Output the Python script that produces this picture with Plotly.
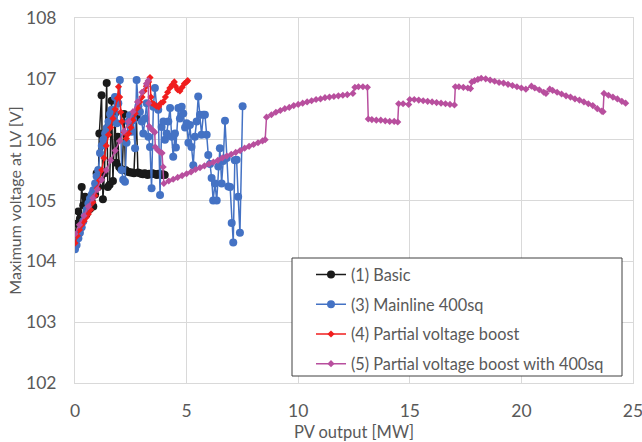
import plotly.graph_objects as go

# ---------------- data ----------------
# (1) Basic
x1 = [0.0, 0.08, 0.15, 0.22, 0.3, 0.37, 0.45, 0.52, 0.6, 0.67, 0.75, 0.82, 0.9, 0.97,
      1.04, 1.09, 1.19, 1.25, 1.32, 1.42, 1.47, 1.55, 1.64, 1.7, 1.79, 1.85, 1.92, 1.98,
      2.05, 2.12, 2.2, 2.26, 2.33, 2.4, 2.48, 2.56, 2.64, 2.75, 2.82, 2.9, 2.97, 3.04,
      3.11, 3.18, 3.25, 3.32, 3.39, 3.46, 3.53, 3.6, 3.67, 3.74, 3.81, 3.88, 3.95, 4.02]
v1 = [104.43, 104.62, 104.82, 104.7, 105.22, 104.92, 105.06, 104.78, 105.04, 104.86, 104.98,
      104.9, 105.1, 105.45, 105.22, 106.1, 106.73, 105.02, 105.45, 106.93, 105.22, 105.26,
      106.64, 105.32, 106.43, 105.62, 106.05, 105.55, 105.52, 105.5, 106.42, 105.5, 105.48,
      105.47, 105.46, 105.46, 105.45, 106.37, 105.46, 105.45, 105.44, 105.43, 105.45, 105.44,
      105.42, 105.44, 105.43, 105.45, 105.44, 105.43, 105.42, 105.44, 105.43, 105.42, 105.43,
      105.42]

# (3) Mainline 400sq
x3 = [0.0, 0.07, 0.15, 0.22, 0.3, 0.37, 0.45, 0.52, 0.6, 0.67, 0.75, 0.82, 0.9, 0.97, 1.04,
      1.12, 1.2, 1.27, 1.35, 1.42, 1.5, 1.57, 1.64, 1.72, 1.79, 1.87, 1.94, 2.01, 2.09, 2.16,
      2.24, 2.31, 2.39, 2.46, 2.54, 2.61, 2.69, 2.76, 2.84, 2.91, 2.99, 3.06, 3.14, 3.21, 3.29,
      3.36, 3.43, 3.51, 3.58, 3.66, 3.73, 3.81, 3.88, 3.96, 4.03, 4.11, 4.18, 4.26, 4.33, 4.4,
      4.48, 4.52, 4.63, 4.7, 4.78, 4.85, 4.93, 5.0, 5.08, 5.15, 5.22, 5.3, 5.37, 5.45, 5.52,
      5.6, 5.67, 5.75, 5.82, 5.9, 5.97, 6.05, 6.12, 6.19, 6.27, 6.35, 6.42, 6.49, 6.57, 6.64,
      6.72, 6.8, 6.87, 6.95, 7.02, 7.09, 7.16, 7.24, 7.31, 7.39, 7.51]
v3 = [104.2, 104.27, 104.38, 104.47, 104.56, 104.66, 104.75, 104.85, 104.95, 105.03, 105.1,
      105.17, 105.28, 105.4, 105.5, 105.78, 105.9, 106.0, 106.1, 106.19, 106.3, 106.42, 106.49,
      106.35, 106.7, 106.27, 106.6, 106.98, 105.5, 105.34, 105.31, 105.95, 106.3, 106.4, 106.13,
      106.32, 105.86, 106.98, 106.55, 106.46, 106.3, 106.1, 106.35, 106.6, 106.05, 105.88, 105.2,
      106.54, 106.85, 106.54, 106.49, 105.09, 106.21, 106.3, 106.0, 106.1, 106.3, 106.52, 106.05,
      105.72, 106.1, 105.87, 106.52, 106.35, 106.54, 106.43, 106.2, 106.27, 105.95, 106.24,
      105.88, 105.58, 106.05, 106.3, 106.71, 106.41, 106.08, 106.41, 106.41, 106.08, 105.75,
      105.6, 105.37, 105.0, 105.28, 105.0, 105.56, 105.86, 105.28, 105.65, 106.31, 105.7,
      105.23, 105.22, 104.63, 104.31, 105.66, 105.67, 105.06, 104.47, 106.55]

# (4) Partial voltage boost
x4 = [0.0, 0.1, 0.2, 0.3, 0.4, 0.5, 0.6, 0.7, 0.8, 0.9, 1.0, 1.1, 1.2, 1.3, 1.4, 1.5, 1.6,
      1.7, 1.8, 1.9, 1.95, 2.0, 2.05, 2.1, 2.2, 2.3, 2.4, 2.5, 2.6, 2.7, 2.8, 2.9, 3.0, 3.1,
      3.2, 3.3, 3.36, 3.4, 3.45, 3.55, 3.65, 3.75, 3.85, 3.95, 4.05, 4.15, 4.25, 4.35, 4.45,
      4.5, 4.6, 4.7, 4.8, 4.9, 5.0, 5.05]
v4 = [104.3, 104.42, 104.52, 104.6, 104.66, 104.72, 104.78, 104.85, 104.97, 105.08, 105.2,
      105.33, 105.5, 105.7, 105.9, 106.08, 106.2, 106.35, 106.5, 106.68, 106.87, 106.7, 106.45,
      106.3, 106.12, 106.02, 106.1, 106.2, 106.32, 106.43, 106.52, 106.62, 106.7, 106.8, 106.88,
      106.95, 107.02, 106.7, 106.6, 106.58, 106.55, 106.54, 106.6, 106.62, 106.7, 106.78, 106.85,
      106.9, 106.95, 106.88, 106.82, 106.8, 106.86, 106.92, 106.95, 106.97]

# (5) Partial voltage boost with 400sq
x5 = [0.0, 0.2, 0.4, 0.6, 0.8, 1.0, 1.2, 1.4, 1.6, 1.8, 2.0, 2.2, 2.4, 2.6, 2.8, 3.0, 3.2,
      3.28, 3.3, 3.32, 3.4, 3.5, 3.57, 3.6, 3.7, 3.8, 3.9, 3.95, 3.98,
      4.2, 4.4, 4.6, 4.8, 5.0, 5.2, 5.4, 5.6, 5.8, 6.0, 6.2, 6.4, 6.6, 6.8, 7.0, 7.2, 7.4,
      7.6, 7.8, 8.0, 8.2, 8.4, 8.52,
      8.58, 8.8, 9.0, 9.2, 9.4, 9.6, 9.8, 10.0, 10.2, 10.4, 10.6, 10.8, 11.0, 11.2, 11.4,
      11.6, 11.8, 12.0, 12.2, 12.45, 12.54, 12.7, 12.9, 13.1,
      13.14, 13.3, 13.5, 13.7, 13.9, 14.1, 14.3, 14.46, 14.5, 14.7, 14.95,
      15.0, 15.2, 15.4, 15.6, 15.8, 16.0, 16.2, 16.4, 16.6, 16.8, 17.0,
      17.04, 17.2, 17.4, 17.6, 17.72, 17.78, 17.9, 18.05, 18.2, 18.4, 18.6, 18.8, 19.0,
      19.2, 19.4, 19.6, 19.8, 20.0, 20.2, 20.45, 20.6, 20.8, 21.0, 21.1,
      21.27, 21.4, 21.6, 21.8, 22.0, 22.2, 22.4, 22.6, 22.8, 23.0, 23.2, 23.4, 23.6, 23.66,
      23.7, 23.9, 24.1, 24.3, 24.5, 24.67]
v5 = [104.45, 104.6, 104.75, 104.9, 105.04, 105.18, 105.34, 105.5, 105.66, 105.82, 105.98,
      106.14, 106.3, 106.46, 106.62, 106.78, 106.92,
      106.97, 106.6, 106.22, 106.18, 106.15, 106.12, 105.88, 105.83, 105.8, 105.78, 105.55, 105.28,
      105.32, 105.35, 105.38, 105.41, 105.44, 105.47, 105.51, 105.54, 105.57, 105.6, 105.63,
      105.66, 105.7, 105.73, 105.76, 105.79, 105.82, 105.86, 105.89, 105.92, 105.95, 105.98, 106.0,
      106.37, 106.41, 106.45, 106.48, 106.51, 106.53, 106.56, 106.58, 106.6, 106.62, 106.64,
      106.66, 106.67, 106.69, 106.7, 106.71, 106.72, 106.73, 106.74, 106.76, 106.86, 106.87,
      106.87, 106.86,
      106.34, 106.33, 106.32, 106.32, 106.31, 106.3, 106.3, 106.29, 106.59, 106.59, 106.58,
      106.66, 106.66, 106.65, 106.64, 106.63, 106.62, 106.61, 106.6, 106.59, 106.58, 106.57,
      106.87, 106.87, 106.86, 106.85, 106.84, 106.95, 106.97, 106.99, 107.01, 107.0, 106.98,
      106.96, 106.94, 106.93, 106.91, 106.89, 106.87, 106.85, 106.83, 106.88, 106.85, 106.82,
      106.78, 106.76,
      106.83, 106.81, 106.78, 106.75, 106.72, 106.7, 106.67, 106.65, 106.62, 106.59, 106.56,
      106.51, 106.47, 106.46,
      106.76, 106.73, 106.7, 106.67, 106.63, 106.6]

names = ["(1) Basic", "(3) Mainline 400sq", "(4) Partial voltage boost",
         "(5) Partial voltage boost with 400sq"]
x_ticks = [0, 5, 10, 15, 20, 25]
y_ticks = [102, 103, 104, 105, 106, 107, 108]

FONT = "Lato, Carlito, Calibri, sans-serif"
GREY = "#595959"
GRID = "#D9D9D9"

fig = go.Figure()
fig.add_trace(go.Scatter(x=x1, y=v1, name=names[0], mode="lines+markers", legendgroup="a",
                         line=dict(color="#1A1A1A", width=1.5),
                         marker=dict(symbol="circle", size=8, color="#1A1A1A")))
fig.add_trace(go.Scatter(x=x3, y=v3, name=names[1], mode="lines+markers", legendgroup="b",
                         line=dict(color="#4472C4", width=1.5),
                         marker=dict(symbol="circle", size=8, color="#4472C4")))
fig.add_trace(go.Scatter(x=x4, y=v4, name=names[2], mode="lines+markers", legendgroup="c",
                         line=dict(color="#F01E1E", width=1.5),
                         marker=dict(symbol="diamond", size=5.5, color="#F01E1E")))
fig.add_trace(go.Scatter(x=x5, y=v5, name=names[3], mode="lines+markers", legendgroup="d",
                         line=dict(color="#B84F9E", width=1.5),
                         marker=dict(symbol="diamond", size=5.5, color="#B84F9E")))

# legend box (paper coords relative to the 558x365 plot area)
fig.add_shape(type="rect", xref="paper", yref="paper",
              x0=(292 - 75) / 558, x1=(622 - 75) / 558,
              y0=(383 - 376) / 365, y1=(383 - 258) / 365,
              line=dict(color="#404040", width=1), fillcolor="white", layer="above")

fig.update_layout(
    width=642, height=442,
    margin=dict(l=75, r=9, t=18, b=59, autoexpand=False),
    paper_bgcolor="white", plot_bgcolor="white",
    font=dict(family=FONT, color=GREY, size=16),
    showlegend=True,
    legend=dict(x=(311 - 75) / 558, y=(383 - 257.5) / 365, xanchor="left", yanchor="top",
                bgcolor="rgba(0,0,0,0)", borderwidth=0, traceorder="grouped",
                tracegroupgap=5.5, font=dict(family=FONT, size=16.3, color=GREY)),
    xaxis=dict(range=[0, 25], tickvals=x_ticks, showgrid=True, gridcolor=GRID, gridwidth=1,
               zeroline=False, showline=True, linecolor=GRID, linewidth=1, mirror=True,
               automargin=False, ticklabeloverflow="allow",
               ticks="", ticklabelstandoff=12, tickfont=dict(size=17.5, color=GREY),
               title=dict(text="PV output [MW]", font=dict(size=16.5, color=GREY), standoff=6)),
    yaxis=dict(range=[102, 108], tickvals=y_ticks, showgrid=True, gridcolor=GRID, gridwidth=1,
               zeroline=False, showline=True, linecolor=GRID, linewidth=1, mirror=True,
               automargin=False, ticklabeloverflow="allow",
               ticks="", ticklabelstandoff=14, tickfont=dict(size=17.5, color=GREY),
               title=dict(text="Maximum voltage at LV [V]", font=dict(size=16, color=GREY),
                          standoff=0)),
)

# remove the default page margin so the 642x442 figure fills the window exactly
fig.write_html("out.html", config={"displayModeBar": False},
               post_script="document.body.style.margin='0';document.body.style.overflow='hidden';")
